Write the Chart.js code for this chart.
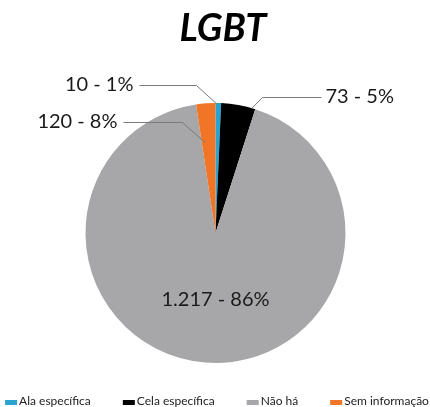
<!DOCTYPE html>
<html>
<head>
<meta charset="utf-8">
<script src="https://cdn.jsdelivr.net/npm/chart.js@4.4.1/dist/chart.umd.min.js"></script>
<style>
  html, body { margin: 0; padding: 0; background: #fff; }
  #wrap { width: 430px; height: 407px; }
</style>
</head>
<body>
<div id="wrap"><canvas id="chart"></canvas></div>
<script>
const chartTitle = 'LGBT';
const categories = ['Ala específica', 'Cela específica', 'Não há', 'Sem informação'];
// numbers printed on the labels
const counts = ['10', '73', '1.217', '120'];
const percents = ['1%', '5%', '86%', '8%'];
// wedge sizes (degrees) as they are drawn in the original, which don't follow the printed counts
const wedgeDegrees = [2.5, 15.3, 333.6, 8.6];
const colors = ['#2aa3d0', '#000000', '#a7a7a9', '#f07526'];

// where each label sits, offsets from the pie centre (px)
// side: text to the left/right of the leader, t/rf: point on the wedge the leader touches
const labelSpots = [
    { side: 'left',  dx: -82, dy: -148, elbow: -19, t: 0.3,  rf: 0.99 },
    { side: 'right', dx: 110, dy: -136, elbow: 47,  t: 0.9,  rf: 1.0 },
    { side: 'inside', dx: 0, dy: 67 },
    { side: 'left',  dx: -98, dy: -111, elbow: -33, t: 0.23, rf: 0.7 }
];

const labelFont = '20px Lato';

const pieLabels = {
    id: 'pieLabels',
    afterDatasetsDraw(chart) {
        const ctx = chart.ctx;
        const arcs = chart.getDatasetMeta(0).data;
        ctx.save();
        ctx.font = labelFont;
        ctx.textBaseline = 'middle';
        arcs.forEach((arc, i) => {
            const spot = labelSpots[i];
            const text = counts[i] + ' - ' + percents[i];
            const cx = arc.x, cy = arc.y;
            if (spot.side === 'inside') {
                ctx.fillStyle = '#1a1a1a';
                ctx.textAlign = 'center';
                ctx.fillText(text, cx + spot.dx, cy + spot.dy);
                return;
            }
            const a = arc.startAngle + (arc.endAngle - arc.startAngle) * spot.t;
            const r = arc.outerRadius * spot.rf;
            const ex = cx + Math.cos(a) * r;
            const ey = cy + Math.sin(a) * r;
            const ty = cy + spot.dy;
            const tx = cx + spot.dx;
            const lineStart = spot.side === 'left' ? tx + 6 : tx - 4;

            ctx.strokeStyle = '#7a7a7a';
            ctx.lineWidth = 1;
            ctx.beginPath();
            ctx.moveTo(lineStart, ty + 0.5);
            ctx.lineTo(cx + spot.elbow, ty + 0.5);
            ctx.lineTo(ex, ey);
            ctx.stroke();

            ctx.fillStyle = '#1a1a1a';
            ctx.textAlign = spot.side === 'left' ? 'right' : 'left';
            ctx.fillText(text, tx, ty);
        });
        ctx.restore();
    }
};

// title and legend drawn by hand so they sit where the original has them
const frame = {
    id: 'frame',
    afterDraw(chart) {
        const ctx = chart.ctx;
        ctx.save();
        ctx.font = 'italic bold 38px Lato';
        ctx.fillStyle = '#000';
        ctx.textAlign = 'center';
        ctx.textBaseline = 'middle';
        ctx.fillText(chartTitle, 223, 29);

        const boxW = 12, boxH = 5, gap = 2, itemGap = 32;
        ctx.font = '12px Lato';
        ctx.textAlign = 'left';
        const widths = categories.map(c => boxW + gap + ctx.measureText(c).width);
        const total = widths.reduce((s, w) => s + w, 0) + itemGap * (categories.length - 1);
        let x = (chart.width - total) / 2 + 2;
        const y = 401;
        categories.forEach((c, i) => {
            ctx.fillStyle = colors[i];
            ctx.fillRect(x, y - 1, boxW, boxH);
            ctx.fillStyle = '#222';
            ctx.fillText(c, x + boxW + gap, y);
            x += widths[i] + itemGap;
        });
        ctx.restore();
    }
};

new Chart(document.getElementById('chart'), {
    type: 'pie',
    data: {
        labels: categories,
        datasets: [{
            data: wedgeDegrees,
            backgroundColor: colors,
            borderWidth: 0
        }]
    },
    options: {
        responsive: true,
        maintainAspectRatio: false,
        animation: false,
        layout: { padding: { top: 103, bottom: 44, left: 1, right: 0 } },
        plugins: {
            legend: { display: false },
            tooltip: { enabled: false },
            title: { display: false }
        }
    },
    plugins: [pieLabels, frame]
});
</script>
</body>
</html>
